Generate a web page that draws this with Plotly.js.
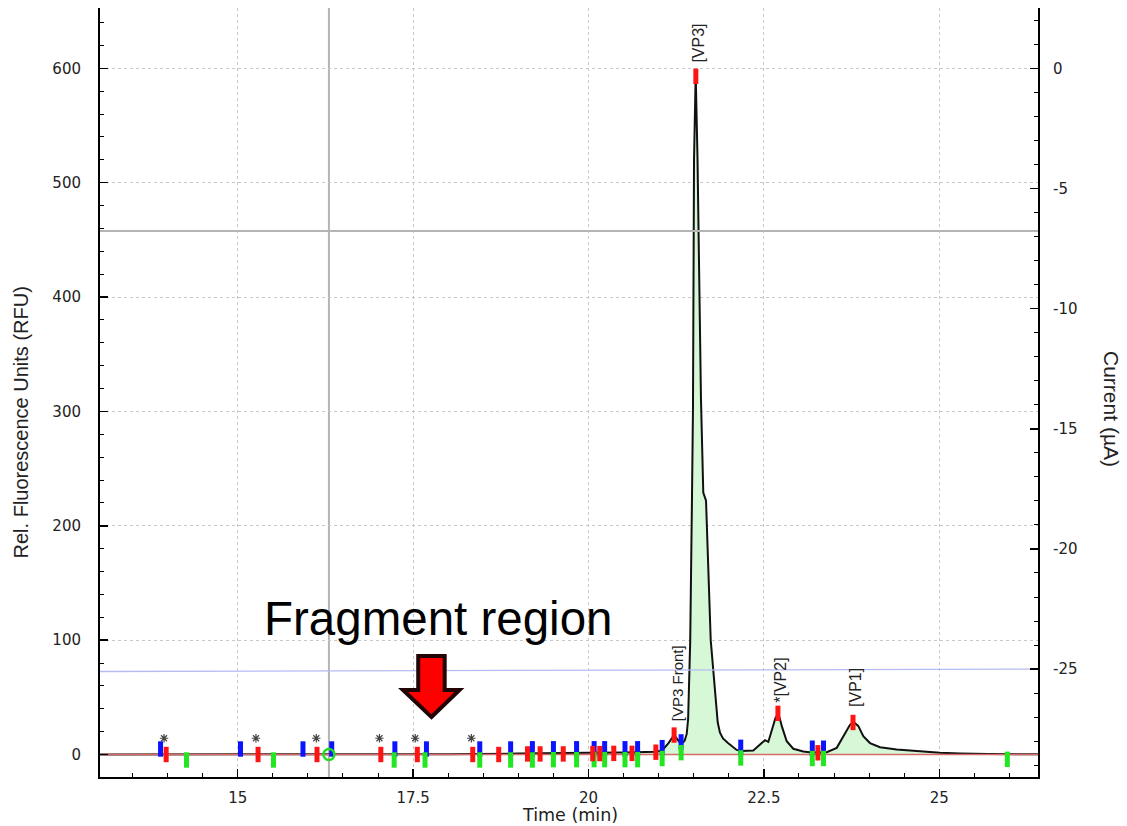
<!DOCTYPE html>
<html>
<head>
<meta charset="utf-8">
<script src="https://cdn.plot.ly/plotly-3.0.1.min.js"></script>
<style>html,body{margin:0;padding:0;background:#fff;}#chart{width:1127px;height:826px;}</style>
</head>
<body>
<div id="chart"></div>
<script>
// ---- data ----
const timeMin = [13.04, 15.0, 17.0, 18.0, 19.0, 19.4, 20.0, 20.5, 20.88, 20.96, 21.05, 21.14, 21.22, 21.28, 21.32, 21.37, 21.40, 21.42, 21.45, 21.475, 21.489, 21.504, 21.528, 21.554, 21.575, 21.603, 21.636, 21.675, 21.742, 21.842, 21.874, 21.917, 21.988, 22.112, 22.174, 22.349, 22.469, 22.516, 22.563, 22.634, 22.665, 22.697, 22.725, 22.754, 22.825, 22.919, 23.062, 23.181, 23.395, 23.538, 23.632, 23.727, 23.774, 23.80, 23.845, 23.917, 24.012, 24.155, 24.393, 24.678, 25.01, 25.295, 25.7, 26.41];
const rfu     = [0, 0, 0, 0.3, 0.8, 1.3, 1.5, 1.8, 2, 2.5, 3.5, 10, 17, 12, 9, 12, 18, 31, 100, 225, 302, 520, 595, 520, 420, 311, 229, 222, 100, 28, 19, 14, 10, 4, 3, 3.5, 10, 12.5, 11, 25, 32, 35, 32, 25, 11.6, 5, 2.6, 1.7, 2, 5.8, 16, 26, 28.5, 27.5, 25, 16, 10, 6.4, 4.4, 3, 1.5, 0.9, 0.4, 0.2];

const baselineT = [13.037, 26.407];
const baselineRfu = [0, 0];

const currentT = [13.037, 26.407];
const currentA = [-6.77, -6.77];
const voltT = [13.037, 17.5, 22.0, 26.407];
const voltA = [-25.1, -25.07, -25.03, -25.0];

const cursorTime = 16.30;

const blueT = [13.90, 15.04, 15.93, 16.34, 17.24, 17.69, 18.45, 18.89, 19.20, 19.50, 19.83, 20.08, 20.23, 20.52, 20.70, 21.05, 21.32, 22.17, 23.19, 23.35];
const blueY = [4.8, 4.8, 4.8, 4.8, 4.8, 4.8, 4.8, 4.8, 5, 5, 5, 5, 5, 5, 5, 6, 11, 6.3, 5.5, 5.5];

const redT = [13.98, 15.29, 16.13, 17.04, 17.56, 18.35, 18.72, 19.13, 19.31, 19.64, 20.06, 20.16, 20.36, 20.62, 20.96, 21.22, 21.53, 22.70, 23.27, 23.77];
const redY = [0, 0, 0, 0, 0, 0, 0, 0.5, 0.5, 0.5, 0.8, 0.8, 1, 1, 2, 17, 593, 36, 1.5, 28];

const greenT = [14.27, 15.51, 17.23, 17.67, 18.45, 18.89, 19.20, 19.50, 19.83, 20.08, 20.23, 20.52, 20.70, 21.05, 21.32, 22.17, 23.19, 23.35, 25.97];
const greenY = [-4.8, -4.8, -4.8, -4.8, -4.8, -4.8, -4.8, -4.5, -4.5, -4.5, -4.5, -4.5, -4.5, -3.5, 1.6, -3, -3.5, -3.5, -4.2];

const circleT = [16.30];
const circleY = [0];

const starT = [13.95, 15.26, 16.12, 17.02, 17.53, 18.33];
const starY = [14.2, 14.2, 14.2, 14.2, 14.2, 14.2];

const peakLabels = ['[VP3 Front]', '[VP3]', '*[VP2]', '[VP1]'];
const peakT = [21.22, 21.53, 22.70, 23.77];
const peakY = [17, 593, 36, 28];

const xTickVals = [15, 17.5, 20, 22.5, 25];
const yTickVals = [0, 100, 200, 300, 400, 500, 600];
const y2TickVals = [0, -5, -10, -15, -20, -25];
const y2TickText = ['0', '-5', '-10', '-15', '-20', '-25'];

// ---- styling ----
const tickFont = {family: 'DejaVu Sans, Verdana, sans-serif', size: 15, color: '#222'};
const labelFont = 'Liberation Sans, Arial, sans-serif';

const barMarker = (color) => ({symbol: 'line-ns', size: 11, line: {color: color, width: 5}, color: color});

const traces = [
  {x: currentT, y: currentA, yaxis: 'y2', mode: 'lines', line: {color: '#b4b4b4', width: 2}, hoverinfo: 'skip'},
  {x: voltT, y: voltA, yaxis: 'y2', mode: 'lines', line: {color: '#b4bcf2', width: 1.3}, hoverinfo: 'skip'},
  {x: timeMin, y: rfu, mode: 'lines', fill: 'tozeroy', fillcolor: '#d6f8d6', line: {color: '#111', width: 2}},
  {x: baselineT, y: baselineRfu, mode: 'lines', line: {color: '#d86a6a', width: 1.3}, hoverinfo: 'skip'},
  {x: blueT, y: blueY, mode: 'markers', marker: barMarker('#0a14ff')},
  {x: greenT, y: greenY, mode: 'markers', marker: barMarker('#22e622')},
  {x: redT, y: redY, mode: 'markers', marker: barMarker('#ff1414')},
  {x: circleT, y: circleY, mode: 'markers', marker: {symbol: 'circle-open', size: 11, color: '#22dd22', line: {color: '#22dd22', width: 2.5}}},
  {x: starT, y: starY, mode: 'markers', marker: {symbol: 'asterisk-open', size: 7, color: '#444', line: {color: '#444', width: 1.2}}}
];

const shiftY = [12, 12, 9, 13];
const shiftX = [3, 3, 3, 3];
const annotations = peakLabels.map((t, i) => ({
  x: peakT[i], y: peakY[i], xref: 'x', yref: 'y', text: t, showarrow: false,
  textangle: -90, xanchor: 'center', yanchor: 'bottom', yshift: shiftY[i], xshift: shiftX[i],
  font: {family: labelFont, size: i === 0 ? 15 : 16, color: '#222'}
}));

annotations.push(
  {xref: 'paper', yref: 'paper', x: 0.501, y: -0.0494, text: 'Time (min)', showarrow: false,
   xanchor: 'center', yanchor: 'middle', font: {family: 'DejaVu Sans, Verdana, sans-serif', size: 17.5, color: '#222'}},
  {xref: 'paper', yref: 'paper', x: -0.0832, y: 0.461, text: 'Rel. Fluorescence Units (RFU)', showarrow: false,
   textangle: -90, xanchor: 'center', yanchor: 'middle', font: {family: labelFont, size: 20, color: '#222'}},
  {xref: 'paper', yref: 'paper', x: 1.0789, y: 0.4785, text: 'Current (µA)', showarrow: false,
   textangle: 90, xanchor: 'center', yanchor: 'middle', font: {family: labelFont, size: 21, color: '#222'}},
  {xref: 'x', yref: 'y', x: 17.862, y: 119.0, text: 'Fragment region', showarrow: false,
   xanchor: 'center', yanchor: 'middle', font: {family: 'Liberation Sans, Arial, sans-serif', size: 47.5, color: '#000'}}
);

const arrowPath = 'M17.573,86.1 L17.950,86.1 L17.950,56.4 L18.161,56.4 L17.762,32.8 L17.356,56.4 L17.573,56.4 Z';

const shapes = [
  {type: 'line', xref: 'x', yref: 'paper', x0: cursorTime, x1: cursorTime, y0: 0, y1: 1,
   line: {color: '#b4b4b4', width: 2}, layer: 'below'},
  {type: 'path', xref: 'x', yref: 'y', path: arrowPath, fillcolor: '#ff0000',
   line: {color: '#220404', width: 4}, layer: 'above'}
];

const minorCommon = {ticks: 'inside', ticklen: 4, tickwidth: 1, tickcolor: '#000', showgrid: false};

const layout = {
  width: 1127, height: 826,
  margin: {l: 100, r: 89, t: 8, b: 49, pad: 0},
  paper_bgcolor: '#fff', plot_bgcolor: '#fff',
  showlegend: false,
  xaxis: {
    range: [13.037, 26.407], tickmode: 'array', tickvals: xTickVals,
    ticks: 'inside', ticklen: 8, tickwidth: 1.5, tickcolor: '#000',
    showline: true, linecolor: '#000', linewidth: 2,
    showgrid: true, gridcolor: '#c8c8c8', griddash: '3px,3px', gridwidth: 1,
    zeroline: false, tickfont: tickFont, ticklabelstandoff: 6,
    minor: Object.assign({tickmode: 'linear', tick0: 15, dtick: 0.5}, minorCommon)
  },
  yaxis: {
    range: [-19.67, 652.7], tickmode: 'array', tickvals: yTickVals,
    ticks: 'inside', ticklen: 8, tickwidth: 1.5, tickcolor: '#000',
    showline: true, linecolor: '#000', linewidth: 2,
    showgrid: true, gridcolor: '#c8c8c8', griddash: '3px,3px', gridwidth: 1,
    zeroline: false, tickfont: tickFont, ticklabelstandoff: 14,
    minor: Object.assign({tickmode: 'linear', tick0: 0, dtick: 20}, minorCommon)
  },
  yaxis2: {
    overlaying: 'y', side: 'right', anchor: 'x',
    range: [-29.49, 2.51], tickmode: 'array', tickvals: y2TickVals, ticktext: y2TickText,
    ticks: 'inside', ticklen: 8, tickwidth: 1.5, tickcolor: '#000',
    showline: true, linecolor: '#000', linewidth: 2,
    showgrid: false, zeroline: false, tickfont: tickFont, ticklabelstandoff: 10,
    minor: Object.assign({tickmode: 'linear', tick0: 0, dtick: 1}, minorCommon)
  },
  annotations: annotations,
  shapes: shapes
};

Plotly.newPlot('chart', traces, layout, {displayModeBar: false, staticPlot: true});
</script>
</body>
</html>
